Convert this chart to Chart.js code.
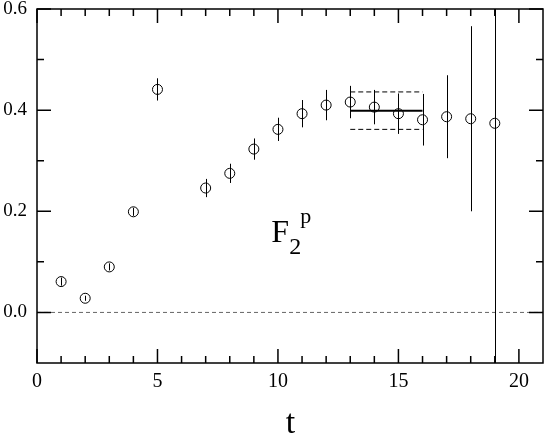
<!DOCTYPE html>
<html>
<head>
<meta charset="utf-8">
<script src="https://cdn.jsdelivr.net/npm/chart.js@4.4.1/dist/chart.umd.min.js"></script>
<style>
  body { margin: 0; background: #fff; }
  canvas { display: block; }
</style>
</head>
<body>
<canvas id="f2pChart" width="545" height="435"></canvas>
<script>
// time slices and measured F2^p values with their errors
const tValues = [1, 2, 3, 4, 5, 7, 8, 9, 10, 11, 12, 13, 14, 15, 16, 17, 18, 19];
const f2pValues = [0.061, 0.028, 0.090, 0.199, 0.441, 0.246, 0.275, 0.323, 0.362, 0.393, 0.410, 0.416, 0.406, 0.393, 0.381, 0.387, 0.383, 0.374];
const f2pErrors = [0.008, 0.005, 0.007, 0.008, 0.022, 0.018, 0.019, 0.021, 0.023, 0.027, 0.030, 0.032, 0.034, 0.040, 0.051, 0.082, 0.183, 0.600];

// plateau fit
const fitRange = [13, 16];
const fitValue = 0.399;
const fitError = 0.037;

// axes
const xRange = [0, 21];
const yRange = [-0.1, 0.6];
const xTickLabels = [0, 5, 10, 15, 20];
const yTickLabels = [0.0, 0.2, 0.4, 0.6];
const xMinorTicks = [1, 2, 3, 4, 6, 7, 8, 9, 11, 12, 13, 14, 16, 17, 18, 19];
const yMinorTicks = [0.1, 0.3, 0.5];

const serif = '"Liberation Serif", "DejaVu Serif", serif';

// cadre, graduations vers l'intérieur, barres d'erreur et textes
const framePlugin = {
    id: 'frame',
    afterDatasetsDraw(chart) {
        const ctx = chart.ctx;
        const area = chart.chartArea;
        const xs = chart.scales.x;
        const ys = chart.scales.y;

        // barres d'erreur
        ctx.save();
        ctx.beginPath();
        ctx.rect(area.left, area.top, area.right - area.left, area.bottom - area.top);
        ctx.clip();
        ctx.strokeStyle = '#000';
        ctx.lineWidth = 1;
        tValues.forEach((t, i) => {
            const px = Math.round(xs.getPixelForValue(t)) + 0.5;
            ctx.beginPath();
            ctx.moveTo(px, ys.getPixelForValue(f2pValues[i] - f2pErrors[i]));
            ctx.lineTo(px, ys.getPixelForValue(f2pValues[i] + f2pErrors[i]));
            ctx.stroke();
        });
        ctx.restore();

        // cadre
        ctx.save();
        ctx.strokeStyle = '#000';
        ctx.lineWidth = 1.5;
        ctx.strokeRect(area.left, area.top, area.right - area.left, area.bottom - area.top);

        const major = 14, minor = 7;
        ctx.beginPath();
        const xTick = (v, len) => {
            const px = xs.getPixelForValue(v);
            ctx.moveTo(px, area.bottom); ctx.lineTo(px, area.bottom - len);
            ctx.moveTo(px, area.top); ctx.lineTo(px, area.top + len);
        };
        const yTick = (v, len) => {
            const py = ys.getPixelForValue(v);
            ctx.moveTo(area.left, py); ctx.lineTo(area.left + len, py);
            ctx.moveTo(area.right, py); ctx.lineTo(area.right - len, py);
        };
        xTickLabels.forEach(v => xTick(v, major));
        xMinorTicks.forEach(v => xTick(v, minor));
        yTickLabels.forEach(v => yTick(v, major));
        yMinorTicks.forEach(v => yTick(v, minor));
        ctx.stroke();

        // F_2^p
        ctx.fillStyle = '#000';
        ctx.textBaseline = 'alphabetic';
        ctx.textAlign = 'left';
        const fx = xs.getPixelForValue(9.72);
        const fy = ys.getPixelForValue(0.140);
        ctx.font = '32px ' + serif;
        ctx.fillText('F', fx, fy);
        ctx.font = '24px ' + serif;
        ctx.fillText('2', fx + 18, fy + 12.5);
        ctx.font = '22px ' + serif;
        ctx.fillText('p', fx + 29, fy - 19);

        // titre de l'axe x
        ctx.font = '34px ' + serif;
        ctx.textAlign = 'center';
        ctx.fillText('t', (area.left + area.right) / 2 + 0.5, 433);
        ctx.restore();
    }
};

const ctx = document.getElementById('f2pChart').getContext('2d');

const f2pChart = new Chart(ctx, {
    type: 'scatter',
    data: {
        datasets: [
            {
                type: 'line',
                data: [{ x: xRange[0], y: 0 }, { x: xRange[1], y: 0 }],
                borderColor: '#666',
                borderWidth: 1,
                borderDash: [4, 3],
                pointRadius: 0
            },
            {
                type: 'line',
                data: fitRange.map(t => ({ x: t, y: fitValue })),
                borderColor: '#000',
                borderWidth: 2,
                pointRadius: 0
            },
            {
                type: 'line',
                data: fitRange.map(t => ({ x: t, y: fitValue + fitError })),
                borderColor: '#000',
                borderWidth: 1,
                borderDash: [5, 3],
                pointRadius: 0
            },
            {
                type: 'line',
                data: fitRange.map(t => ({ x: t, y: fitValue - fitError })),
                borderColor: '#000',
                borderWidth: 1,
                borderDash: [5, 3],
                pointRadius: 0
            },
            {
                data: tValues.map((t, i) => ({ x: t, y: f2pValues[i] })),
                pointStyle: 'circle',
                pointRadius: 5,
                pointBorderWidth: 1,
                pointBorderColor: '#000',
                pointBackgroundColor: 'rgba(0,0,0,0)'
            }
        ]
    },
    options: {
        responsive: false,
        animation: false,
        layout: { autoPadding: false, padding: { top: 9, right: 2, left: 0, bottom: 0 } },
        plugins: {
            legend: { display: false },
            tooltip: { enabled: false }
        },
        scales: {
            x: {
                type: 'linear',
                min: xRange[0],
                max: xRange[1],
                grid: { display: false, drawTicks: false },
                border: { display: false },
                afterBuildTicks: scale => { scale.ticks = xTickLabels.map(v => ({ value: v })); },
                afterFit: scale => {
                    scale.height = 72;
                    scale.paddingLeft = 0;
                    scale.paddingRight = 0;
                },
                ticks: {
                    padding: 7,
                    color: '#000',
                    font: { family: serif, size: 20 },
                    maxRotation: 0,
                    callback: v => String(v)
                }
            },
            y: {
                min: yRange[0],
                max: yRange[1],
                grid: { display: false, drawTicks: false },
                border: { display: false },
                afterBuildTicks: scale => { scale.ticks = yTickLabels.map(v => ({ value: v })); },
                afterFit: scale => {
                    scale.width = 37;
                    scale.paddingTop = 0;
                    scale.paddingBottom = 0;
                },
                ticks: {
                    padding: 10,
                    color: '#000',
                    font: { family: serif, size: 19 },
                    callback: v => v.toFixed(1)
                }
            }
        }
    },
    plugins: [framePlugin]
});
</script>
</body>
</html>
